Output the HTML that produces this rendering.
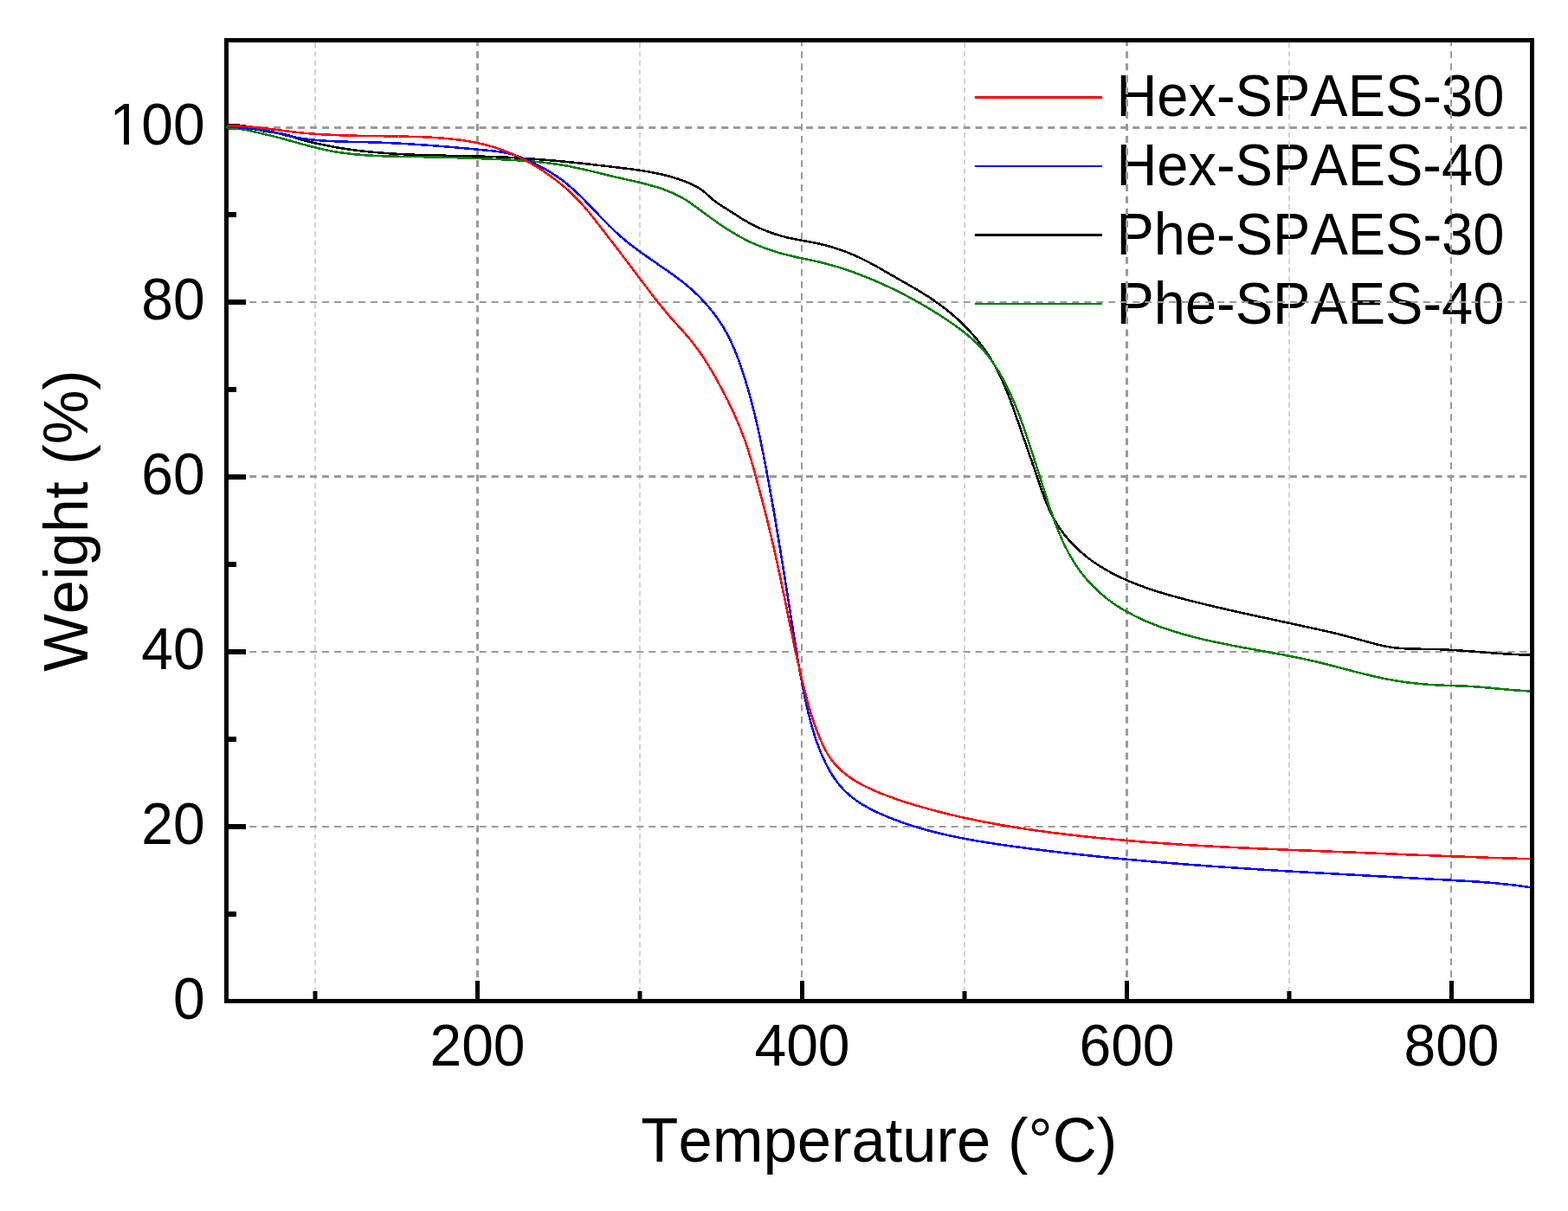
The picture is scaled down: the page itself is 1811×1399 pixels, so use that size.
<!DOCTYPE html>
<html><head><meta charset="utf-8"><title>TGA curves</title>
<style>html,body{margin:0;padding:0;background:#fff;overflow:hidden;}svg{display:block;}</style>
</head><body>
<svg width="1811" height="1399" viewBox="0 0 1811 1399">
<rect width="1811" height="1399" fill="#fff"/>
<text transform="translate(1289.4,134.2) scale(1,1.045)" style="font-family:'Liberation Sans',Arial,sans-serif;font-kerning:none;font-size:65px" fill="#000">Hex-SPAES-30</text>
<text transform="translate(1289.4,214.1) scale(1,1.045)" style="font-family:'Liberation Sans',Arial,sans-serif;font-kerning:none;font-size:65px" fill="#000">Hex-SPAES-40</text>
<text transform="translate(1289.4,294.0) scale(1,1.045)" style="font-family:'Liberation Sans',Arial,sans-serif;font-kerning:none;font-size:65px" fill="#000">Phe-SPAES-30</text>
<text transform="translate(1289.4,373.9) scale(1,1.045)" style="font-family:'Liberation Sans',Arial,sans-serif;font-kerning:none;font-size:65px" fill="#000">Phe-SPAES-40</text>
<g stroke="#d2d2d2" stroke-width="2" stroke-dasharray="6.2 4.193" fill="none">
<line x1="364.0" y1="49" x2="364.0" y2="1154"/>
<line x1="739.0" y1="49" x2="739.0" y2="1154"/>
<line x1="1114.0" y1="49" x2="1114.0" y2="1154"/>
<line x1="1489.0" y1="49" x2="1489.0" y2="1154"/>
</g>
<g stroke="#9a9a9a" stroke-width="2" stroke-dasharray="8 5.973" fill="none">
<line x1="551.5" y1="45.2" x2="551.5" y2="1154" stroke-width="3"/>
<line x1="926" y1="45.2" x2="926" y2="1154" stroke-width="2"/>
<line x1="1301.5" y1="45.2" x2="1301.5" y2="1154" stroke-width="3"/>
<line x1="1676" y1="45.2" x2="1676" y2="1154" stroke-width="2"/>
<line x1="288.2" y1="955" x2="1767" y2="955" stroke-width="2"/>
<line x1="288.2" y1="753" x2="1767" y2="753" stroke-width="2"/>
<line x1="288.2" y1="550.5" x2="1767" y2="550.5" stroke-width="3"/>
<line x1="288.2" y1="349" x2="1767" y2="349" stroke-width="2"/>
<line x1="288.2" y1="147.5" x2="1767" y2="147.5" stroke-width="3"/>
</g>
<rect x="261.5" y="46.5" width="1508.0" height="1110.0" fill="none" stroke="#000" stroke-width="5"/>
<g stroke="#000" fill="none">
<line x1="551.5" y1="1156.5" x2="551.5" y2="1133" stroke-width="5"/>
<line x1="926.5" y1="1156.5" x2="926.5" y2="1133" stroke-width="5"/>
<line x1="1301.5" y1="1156.5" x2="1301.5" y2="1133" stroke-width="5"/>
<line x1="1676.5" y1="1156.5" x2="1676.5" y2="1133" stroke-width="5"/>
<line x1="364.0" y1="1156.5" x2="364.0" y2="1145" stroke-width="5"/>
<line x1="739.0" y1="1156.5" x2="739.0" y2="1145" stroke-width="5"/>
<line x1="1114.0" y1="1156.5" x2="1114.0" y2="1145" stroke-width="5"/>
<line x1="1489.0" y1="1156.5" x2="1489.0" y2="1145" stroke-width="5"/>
<line x1="261.5" y1="955.0" x2="284" y2="955.0" stroke-width="6"/>
<line x1="261.5" y1="753.0" x2="284" y2="753.0" stroke-width="6"/>
<line x1="261.5" y1="551.0" x2="284" y2="551.0" stroke-width="6"/>
<line x1="261.5" y1="349.0" x2="284" y2="349.0" stroke-width="6"/>
<line x1="261.5" y1="147.0" x2="284" y2="147.0" stroke-width="6"/>
<line x1="261.5" y1="1056.0" x2="273" y2="1056.0" stroke-width="6"/>
<line x1="261.5" y1="854.0" x2="273" y2="854.0" stroke-width="6"/>
<line x1="261.5" y1="652.0" x2="273" y2="652.0" stroke-width="6"/>
<line x1="261.5" y1="450.0" x2="273" y2="450.0" stroke-width="6"/>
<line x1="261.5" y1="248.0" x2="273" y2="248.0" stroke-width="6"/>
</g>
<g fill="none" stroke-width="2.55" stroke-linejoin="round" stroke-linecap="butt" shape-rendering="crispEdges">
<path stroke="#000000" d="M263.5,144.5 266.5,144.2 269.5,144.2 272.5,144.3 275.5,144.6 278.4,145.0 281.4,145.5 284.3,146.2 287.2,146.9 290.1,147.6 293.0,148.4 295.9,149.2 298.8,149.9 301.8,150.6 304.7,151.3 307.6,151.8 310.6,152.3 313.6,152.7 316.6,153.1 319.5,153.5 322.5,154.0 325.4,154.5 328.4,155.1 331.3,155.8 334.2,156.7 337.0,157.6 339.9,158.6 342.7,159.6 345.5,160.6 348.4,161.5 351.3,162.3 354.2,163.0 357.1,163.7 360.0,164.4 363.0,165.1 365.9,165.7 368.8,166.4 371.7,167.0 374.7,167.6 377.6,168.2 380.6,168.8 383.5,169.4 386.5,169.9 389.4,170.4 392.4,170.9 395.3,171.4 398.3,171.8 401.3,172.3 404.3,172.7 407.2,173.1 410.2,173.5 413.2,173.9 416.2,174.2 419.1,174.6 422.1,174.9 425.1,175.2 428.1,175.5 431.1,175.8 434.1,176.1 437.1,176.3 440.1,176.6 443.0,176.8 446.0,177.0 449.0,177.2 452.0,177.4 455.0,177.6 458.0,177.8 461.0,177.9 464.0,178.1 467.0,178.3 470.0,178.4 473.0,178.5 476.0,178.6 479.0,178.8 482.0,178.9 485.0,179.0 488.0,179.1 491.0,179.2 494.0,179.3 497.0,179.3 500.0,179.4 503.0,179.5 506.0,179.6 509.0,179.6 512.0,179.7 515.0,179.8 518.0,179.8 521.0,179.9 524.0,179.9 527.0,180.0 530.0,180.1 533.0,180.1 536.0,180.2 539.0,180.3 542.0,180.3 545.0,180.4 548.0,180.5 551.0,180.5 554.0,180.6 557.0,180.7 560.0,180.8 563.0,180.9 566.0,181.0 569.0,181.1 572.0,181.2 575.0,181.3 578.0,181.4 581.0,181.5 584.0,181.7 587.0,181.8 590.0,182.0 593.0,182.2 596.0,182.3 599.0,182.5 602.0,182.7 605.0,182.9 608.0,183.1 611.0,183.3 614.0,183.5 616.9,183.7 619.9,183.9 622.9,184.2 625.9,184.4 628.9,184.7 631.9,184.9 634.9,185.2 637.9,185.4 640.9,185.7 643.9,186.0 646.8,186.2 649.8,186.5 652.8,186.8 655.8,187.1 658.8,187.4 661.8,187.7 664.8,188.0 667.8,188.3 670.7,188.6 673.7,188.9 676.7,189.3 679.7,189.6 682.7,189.9 685.7,190.3 688.6,190.6 691.6,190.9 694.6,191.3 697.6,191.6 700.6,192.0 703.5,192.3 706.5,192.7 709.5,193.0 712.5,193.4 715.5,193.7 718.4,194.1 721.4,194.5 724.4,194.8 727.4,195.2 730.3,195.6 733.3,196.0 736.3,196.4 739.3,196.9 742.2,197.3 745.2,197.8 748.2,198.3 751.1,198.8 754.1,199.4 757.0,199.9 759.9,200.5 762.9,201.2 765.8,201.8 768.7,202.6 771.6,203.3 774.5,204.1 777.4,204.9 780.3,205.8 783.1,206.7 786.0,207.7 788.8,208.7 791.6,209.8 794.4,210.9 797.1,212.1 799.9,213.3 802.5,214.7 805.2,216.1 807.7,217.7 810.2,219.3 812.7,221.1 815.0,223.0 817.2,225.1 819.4,227.1 821.6,229.1 823.9,231.1 826.3,232.9 828.7,234.6 831.2,236.3 833.7,237.9 836.3,239.5 838.8,241.1 841.4,242.7 843.9,244.3 846.4,245.9 848.9,247.6 851.5,249.2 854.0,250.8 856.5,252.4 859.1,254.0 861.7,255.5 864.3,257.0 866.9,258.4 869.6,259.8 872.2,261.2 875.0,262.5 877.7,263.7 880.4,264.9 883.2,266.0 886.0,267.1 888.8,268.2 891.6,269.2 894.5,270.2 897.4,271.1 900.2,271.9 903.1,272.8 906.0,273.5 908.9,274.3 911.8,274.9 914.8,275.6 917.7,276.2 920.7,276.8 923.6,277.4 926.6,277.9 929.5,278.4 932.5,279.0 935.4,279.5 938.4,280.1 941.3,280.7 944.2,281.3 947.2,281.9 950.1,282.6 953.0,283.3 955.9,284.1 958.8,284.9 961.7,285.7 964.6,286.6 967.4,287.5 970.2,288.5 973.1,289.5 975.9,290.5 978.7,291.6 981.5,292.7 984.3,293.9 987.0,295.1 989.7,296.3 992.5,297.5 995.2,298.8 997.9,300.2 1000.5,301.5 1003.2,302.9 1005.9,304.3 1008.5,305.7 1011.1,307.2 1013.8,308.6 1016.4,310.1 1019.0,311.6 1021.6,313.1 1024.2,314.6 1026.8,316.1 1029.4,317.6 1032.0,319.1 1034.6,320.6 1037.2,322.1 1039.8,323.6 1042.4,325.1 1045.0,326.5 1047.6,328.0 1050.2,329.5 1052.8,331.0 1055.4,332.5 1058.0,334.0 1060.6,335.6 1063.2,337.1 1065.7,338.7 1068.3,340.3 1070.8,341.9 1073.3,343.5 1075.8,345.2 1078.3,346.8 1080.8,348.6 1083.2,350.3 1085.6,352.1 1088.0,353.9 1090.4,355.7 1092.8,357.5 1095.1,359.4 1097.5,361.3 1099.8,363.2 1102.0,365.2 1104.3,367.2 1106.5,369.2 1108.7,371.2 1110.9,373.3 1113.0,375.4 1115.1,377.5 1117.2,379.7 1119.3,381.8 1121.3,384.1 1123.3,386.3 1125.3,388.5 1127.3,390.8 1129.2,393.1 1131.1,395.5 1132.9,397.9 1134.7,400.2 1136.5,402.7 1138.2,405.1 1139.9,407.6 1141.6,410.1 1143.2,412.6 1144.8,415.2 1146.3,417.7 1147.8,420.3 1149.3,423.0 1150.7,425.6 1152.1,428.3 1153.4,430.9 1154.8,433.6 1156.1,436.3 1157.3,439.1 1158.5,441.8 1159.7,444.6 1160.9,447.3 1162.1,450.1 1163.2,452.9 1164.3,455.7 1165.4,458.5 1166.5,461.3 1167.5,464.1 1168.6,466.9 1169.6,469.7 1170.6,472.5 1171.6,475.4 1172.6,478.2 1173.6,481.0 1174.6,483.9 1175.6,486.7 1176.6,489.5 1177.5,492.4 1178.5,495.2 1179.5,498.0 1180.5,500.9 1181.5,503.7 1182.5,506.5 1183.5,509.4 1184.5,512.2 1185.5,515.0 1186.5,517.9 1187.4,520.7 1188.4,523.5 1189.4,526.4 1190.4,529.2 1191.4,532.0 1192.3,534.9 1193.3,537.7 1194.3,540.6 1195.2,543.4 1196.2,546.2 1197.2,549.1 1198.1,551.9 1199.1,554.8 1200.0,557.6 1201.0,560.5 1202.0,563.3 1203.0,566.1 1204.0,569.0 1205.0,571.8 1206.1,574.6 1207.1,577.4 1208.3,580.2 1209.4,582.9 1210.6,585.7 1211.8,588.4 1213.1,591.2 1214.4,593.8 1215.8,596.5 1217.2,599.1 1218.7,601.8 1220.2,604.3 1221.8,606.9 1223.5,609.4 1225.2,611.9 1226.9,614.3 1228.7,616.7 1230.6,619.1 1232.5,621.4 1234.4,623.7 1236.4,625.9 1238.5,628.1 1240.5,630.3 1242.7,632.4 1244.8,634.5 1247.0,636.5 1249.3,638.5 1251.6,640.4 1253.9,642.3 1256.3,644.2 1258.7,646.0 1261.1,647.8 1263.5,649.5 1266.0,651.2 1268.5,652.8 1271.1,654.4 1273.6,656.0 1276.2,657.5 1278.8,659.0 1281.4,660.5 1284.1,661.9 1286.7,663.3 1289.4,664.6 1292.1,666.0 1294.8,667.3 1297.5,668.5 1300.3,669.7 1303.0,670.9 1305.8,672.1 1308.6,673.3 1311.4,674.4 1314.1,675.5 1317.0,676.5 1319.8,677.6 1322.6,678.6 1325.4,679.6 1328.3,680.6 1331.1,681.5 1334.0,682.4 1336.8,683.4 1339.7,684.3 1342.6,685.1 1345.4,686.0 1348.3,686.8 1351.2,687.7 1354.1,688.5 1357.0,689.3 1359.9,690.1 1362.8,690.8 1365.7,691.6 1368.6,692.4 1371.5,693.1 1374.4,693.9 1377.3,694.6 1380.2,695.3 1383.1,696.0 1386.0,696.8 1389.0,697.5 1391.9,698.2 1394.8,698.9 1397.7,699.6 1400.6,700.3 1403.5,701.0 1406.5,701.7 1409.4,702.3 1412.3,703.0 1415.2,703.7 1418.2,704.4 1421.1,705.0 1424.0,705.7 1426.9,706.3 1429.9,707.0 1432.8,707.7 1435.7,708.3 1438.7,709.0 1441.6,709.6 1444.5,710.2 1447.5,710.9 1450.4,711.5 1453.3,712.2 1456.2,712.8 1459.2,713.4 1462.1,714.1 1465.0,714.7 1468.0,715.3 1470.9,716.0 1473.8,716.6 1476.8,717.2 1479.7,717.9 1482.7,718.5 1485.6,719.1 1488.5,719.8 1491.5,720.4 1494.4,721.0 1497.3,721.7 1500.3,722.3 1503.2,722.9 1506.1,723.6 1509.1,724.2 1512.0,724.8 1514.9,725.5 1517.8,726.1 1520.8,726.8 1523.7,727.4 1526.6,728.1 1529.6,728.7 1532.5,729.4 1535.4,730.1 1538.3,730.7 1541.3,731.4 1544.2,732.1 1547.1,732.8 1550.0,733.6 1552.9,734.3 1555.8,735.1 1558.7,735.9 1561.6,736.6 1564.5,737.4 1567.4,738.2 1570.3,739.0 1573.2,739.8 1576.1,740.6 1579.0,741.4 1581.9,742.2 1584.8,743.0 1587.7,743.7 1590.6,744.5 1593.5,745.2 1596.4,745.8 1599.4,746.5 1602.3,747.0 1605.3,747.5 1608.2,748.0 1611.2,748.3 1614.2,748.6 1617.2,748.9 1620.2,749.1 1623.2,749.3 1626.2,749.4 1629.2,749.5 1632.2,749.6 1635.2,749.7 1638.2,749.7 1641.2,749.8 1644.2,749.8 1647.2,749.8 1650.2,749.9 1653.2,749.9 1656.2,750.0 1659.2,750.1 1662.2,750.2 1665.2,750.3 1668.2,750.4 1671.2,750.6 1674.2,750.8 1677.2,750.9 1680.2,751.1 1683.2,751.3 1686.2,751.5 1689.1,751.7 1692.1,751.9 1695.1,752.1 1698.1,752.4 1701.1,752.6 1704.1,752.8 1707.1,753.0 1710.1,753.3 1713.1,753.5 1716.1,753.8 1719.1,754.0 1722.1,754.2 1725.1,754.4 1728.0,754.7 1731.0,754.9 1734.0,755.1 1737.0,755.3 1740.0,755.5 1743.0,755.7 1746.0,755.8 1749.0,756.0 1752.0,756.1 1755.0,756.3 1758.0,756.4 1761.0,756.5 1764.0,756.6 1767.0,756.7"/>
<path stroke="#007f00" d="M261.3,146.1 263.6,148.0 266.5,148.8 269.5,148.9 272.5,148.9 275.5,148.9 278.5,149.1 281.4,149.5 284.4,150.1 287.3,150.7 290.2,151.5 293.1,152.2 296.1,152.8 299.0,153.5 301.9,154.2 304.8,154.8 307.8,155.5 310.7,156.2 313.6,156.9 316.5,157.6 319.4,158.4 322.3,159.1 325.2,159.9 328.1,160.7 331.0,161.5 333.9,162.3 336.8,163.1 339.7,163.9 342.6,164.7 345.5,165.5 348.4,166.3 351.2,167.1 354.1,167.9 357.0,168.6 359.9,169.4 362.9,170.1 365.8,170.9 368.7,171.6 371.6,172.2 374.5,172.9 377.5,173.5 380.4,174.1 383.4,174.6 386.3,175.2 389.3,175.7 392.2,176.1 395.2,176.5 398.2,176.9 401.2,177.3 404.1,177.7 407.1,178.0 410.1,178.3 413.1,178.6 416.1,178.8 419.1,179.1 422.1,179.3 425.1,179.5 428.0,179.7 431.0,179.8 434.0,180.0 437.0,180.1 440.0,180.2 443.0,180.3 446.0,180.4 449.0,180.5 452.0,180.6 455.0,180.7 458.0,180.7 461.0,180.8 464.0,180.8 467.0,180.9 470.0,180.9 473.0,181.0 476.0,181.0 479.0,181.1 482.0,181.1 485.0,181.2 488.0,181.2 491.0,181.3 494.0,181.4 497.0,181.4 500.0,181.5 503.0,181.6 506.0,181.6 509.0,181.7 512.0,181.8 515.0,181.9 518.0,181.9 521.0,182.0 524.0,182.1 527.0,182.2 530.0,182.3 533.0,182.4 536.0,182.5 539.0,182.6 542.0,182.7 545.0,182.8 548.0,182.9 551.0,183.0 554.0,183.1 557.0,183.3 560.0,183.4 563.0,183.5 566.0,183.6 569.0,183.8 572.0,183.9 575.0,184.1 578.0,184.2 581.0,184.3 584.0,184.5 587.0,184.7 590.0,184.8 593.0,185.0 595.9,185.2 598.9,185.3 601.9,185.5 604.9,185.7 607.9,185.9 610.9,186.2 613.9,186.4 616.9,186.7 619.9,186.9 622.9,187.2 625.8,187.5 628.8,187.9 631.8,188.2 634.8,188.6 637.8,189.0 640.7,189.4 643.7,189.8 646.7,190.3 649.6,190.8 652.6,191.3 655.5,191.8 658.5,192.4 661.4,193.0 664.4,193.6 667.3,194.2 670.2,194.8 673.2,195.5 676.1,196.2 679.0,196.8 681.9,197.5 684.8,198.2 687.8,198.9 690.7,199.6 693.6,200.3 696.5,201.0 699.4,201.7 702.3,202.5 705.2,203.2 708.2,203.9 711.1,204.5 714.0,205.2 716.9,205.9 719.9,206.6 722.8,207.2 725.7,207.9 728.6,208.5 731.6,209.2 734.5,209.9 737.4,210.5 740.3,211.2 743.2,212.0 746.1,212.7 749.1,213.5 751.9,214.3 754.8,215.1 757.7,215.9 760.6,216.8 763.4,217.8 766.3,218.7 769.1,219.8 771.9,220.9 774.6,222.0 777.4,223.2 780.1,224.4 782.8,225.8 785.5,227.1 788.1,228.6 790.7,230.1 793.2,231.7 795.7,233.4 798.2,235.0 800.7,236.8 803.1,238.5 805.5,240.3 807.9,242.1 810.3,243.9 812.7,245.7 815.2,247.5 817.6,249.2 820.0,251.0 822.4,252.8 824.9,254.5 827.3,256.2 829.8,257.9 832.3,259.6 834.8,261.3 837.3,263.0 839.8,264.6 842.3,266.2 844.9,267.8 847.4,269.3 850.0,270.9 852.6,272.3 855.2,273.8 857.9,275.2 860.5,276.6 863.2,278.0 865.9,279.3 868.6,280.5 871.4,281.8 874.1,282.9 876.9,284.1 879.7,285.2 882.5,286.3 885.3,287.3 888.1,288.3 891.0,289.3 893.8,290.2 896.7,291.1 899.6,291.9 902.5,292.8 905.4,293.6 908.3,294.3 911.2,295.0 914.1,295.7 917.0,296.4 919.9,297.1 922.9,297.7 925.8,298.3 928.7,298.9 931.7,299.5 934.6,300.1 937.6,300.8 940.5,301.4 943.4,302.0 946.3,302.7 949.3,303.4 952.2,304.1 955.1,304.9 958.0,305.7 960.9,306.5 963.7,307.3 966.6,308.2 969.5,309.1 972.3,310.0 975.2,310.9 978.0,311.8 980.9,312.8 983.7,313.8 986.5,314.8 989.3,315.9 992.2,316.9 995.0,318.0 997.7,319.1 1000.5,320.2 1003.3,321.3 1006.1,322.5 1008.9,323.6 1011.6,324.8 1014.4,326.0 1017.1,327.2 1019.8,328.4 1022.6,329.7 1025.3,331.0 1028.0,332.2 1030.7,333.5 1033.4,334.8 1036.1,336.2 1038.8,337.5 1041.5,338.9 1044.1,340.2 1046.8,341.6 1049.4,343.0 1052.1,344.5 1054.7,345.9 1057.3,347.3 1060.0,348.8 1062.6,350.3 1065.2,351.8 1067.8,353.3 1070.3,354.8 1072.9,356.4 1075.5,357.9 1078.0,359.5 1080.6,361.1 1083.1,362.7 1085.6,364.3 1088.2,365.9 1090.7,367.6 1093.2,369.2 1095.7,370.9 1098.2,372.6 1100.6,374.3 1103.1,376.0 1105.5,377.8 1107.9,379.5 1110.3,381.3 1112.7,383.2 1115.0,385.0 1117.4,386.9 1119.7,388.9 1121.9,390.8 1124.2,392.8 1126.4,394.9 1128.5,397.0 1130.6,399.1 1132.7,401.3 1134.7,403.5 1136.7,405.7 1138.6,408.0 1140.5,410.4 1142.4,412.7 1144.2,415.1 1145.9,417.6 1147.6,420.0 1149.3,422.5 1150.9,425.1 1152.5,427.6 1154.1,430.2 1155.6,432.8 1157.1,435.4 1158.5,438.0 1159.9,440.6 1161.3,443.3 1162.7,446.0 1164.0,448.7 1165.3,451.4 1166.6,454.1 1167.8,456.8 1169.0,459.5 1170.2,462.3 1171.4,465.0 1172.6,467.8 1173.7,470.6 1174.8,473.4 1175.9,476.2 1177.0,479.0 1178.1,481.8 1179.1,484.6 1180.1,487.4 1181.1,490.2 1182.1,493.1 1183.1,495.9 1184.1,498.7 1185.1,501.6 1186.0,504.4 1187.0,507.3 1187.9,510.1 1188.9,513.0 1189.8,515.8 1190.7,518.7 1191.7,521.5 1192.6,524.4 1193.5,527.2 1194.4,530.1 1195.3,532.9 1196.3,535.8 1197.2,538.6 1198.1,541.5 1199.0,544.4 1199.9,547.2 1200.8,550.1 1201.7,552.9 1202.6,555.8 1203.5,558.7 1204.4,561.5 1205.3,564.4 1206.2,567.2 1207.1,570.1 1208.1,573.0 1209.0,575.8 1209.9,578.7 1210.8,581.5 1211.8,584.4 1212.7,587.2 1213.7,590.1 1214.7,592.9 1215.6,595.7 1216.7,598.6 1217.7,601.4 1218.7,604.2 1219.8,607.0 1220.9,609.8 1222.0,612.6 1223.1,615.4 1224.3,618.1 1225.5,620.9 1226.7,623.6 1227.9,626.3 1229.2,629.1 1230.5,631.7 1231.9,634.4 1233.3,637.1 1234.7,639.7 1236.2,642.3 1237.7,644.9 1239.2,647.5 1240.8,650.1 1242.4,652.6 1244.1,655.1 1245.8,657.5 1247.6,659.9 1249.4,662.3 1251.3,664.7 1253.2,667.0 1255.1,669.3 1257.1,671.5 1259.1,673.8 1261.2,675.9 1263.3,678.1 1265.4,680.2 1267.6,682.2 1269.8,684.3 1272.1,686.3 1274.4,688.2 1276.7,690.1 1279.0,692.0 1281.4,693.8 1283.8,695.5 1286.3,697.3 1288.8,699.0 1291.3,700.6 1293.8,702.2 1296.4,703.8 1299.0,705.3 1301.6,706.8 1304.2,708.2 1306.9,709.6 1309.5,711.0 1312.2,712.3 1314.9,713.6 1317.6,714.9 1320.4,716.1 1323.1,717.4 1325.9,718.5 1328.6,719.7 1331.4,720.8 1334.2,721.9 1337.0,723.0 1339.8,724.0 1342.7,725.0 1345.5,726.0 1348.3,727.0 1351.2,727.9 1354.0,728.8 1356.9,729.8 1359.8,730.6 1362.6,731.5 1365.5,732.3 1368.4,733.2 1371.3,734.0 1374.2,734.7 1377.1,735.5 1380.0,736.3 1382.9,737.0 1385.8,737.7 1388.7,738.4 1391.6,739.1 1394.6,739.8 1397.5,740.4 1400.4,741.1 1403.4,741.7 1406.3,742.3 1409.2,742.9 1412.2,743.5 1415.1,744.1 1418.0,744.7 1421.0,745.3 1423.9,745.9 1426.9,746.4 1429.8,747.0 1432.8,747.5 1435.7,748.1 1438.7,748.6 1441.6,749.2 1444.6,749.7 1447.5,750.2 1450.5,750.8 1453.4,751.3 1456.4,751.8 1459.3,752.4 1462.3,752.9 1465.3,753.4 1468.2,754.0 1471.2,754.5 1474.1,755.0 1477.1,755.6 1480.0,756.1 1483.0,756.7 1485.9,757.3 1488.8,757.8 1491.8,758.4 1494.7,759.0 1497.7,759.6 1500.6,760.2 1503.5,760.8 1506.5,761.4 1509.4,762.1 1512.3,762.7 1515.3,763.4 1518.2,764.0 1521.1,764.7 1524.0,765.4 1527.0,766.1 1529.9,766.8 1532.8,767.6 1535.7,768.3 1538.6,769.1 1541.5,769.8 1544.4,770.6 1547.3,771.3 1550.2,772.1 1553.1,772.8 1556.0,773.6 1558.9,774.4 1561.8,775.1 1564.7,775.9 1567.6,776.6 1570.5,777.4 1573.4,778.1 1576.3,778.8 1579.3,779.5 1582.2,780.2 1585.1,780.9 1588.0,781.6 1590.9,782.2 1593.9,782.9 1596.8,783.5 1599.8,784.1 1602.7,784.7 1605.6,785.2 1608.6,785.8 1611.6,786.3 1614.5,786.8 1617.5,787.2 1620.4,787.7 1623.4,788.1 1626.4,788.5 1629.4,788.8 1632.3,789.2 1635.3,789.5 1638.3,789.8 1641.3,790.1 1644.3,790.4 1647.3,790.6 1650.3,790.9 1653.3,791.1 1656.3,791.2 1659.3,791.4 1662.2,791.5 1665.2,791.7 1668.2,791.8 1671.2,791.9 1674.2,792.0 1677.2,792.1 1680.2,792.2 1683.2,792.3 1686.2,792.5 1689.2,792.6 1692.2,792.7 1695.2,792.8 1698.2,793.0 1701.2,793.2 1704.2,793.4 1707.2,793.6 1710.2,793.8 1713.2,794.0 1716.2,794.3 1719.2,794.5 1722.1,794.8 1725.1,795.1 1728.1,795.4 1731.1,795.7 1734.1,796.0 1737.1,796.2 1740.1,796.5 1743.1,796.8 1746.0,797.0 1749.0,797.3 1752.0,797.5 1755.0,797.7 1758.0,797.9 1761.0,798.1 1764.0,798.3 1767.0,798.4"/>
<path stroke="#0000ff" d="M263.0,146.3 266.0,146.5 269.0,146.7 272.0,147.0 275.0,147.2 278.0,147.5 281.0,147.8 283.9,148.1 286.9,148.4 289.9,148.7 292.9,149.1 295.9,149.4 298.9,149.8 301.8,150.2 304.8,150.6 307.8,151.0 310.7,151.5 313.7,152.1 316.6,152.8 319.5,153.5 322.4,154.3 325.3,155.1 328.2,155.9 331.1,156.6 334.1,157.3 337.0,157.9 339.9,158.5 342.9,159.0 345.8,159.5 348.8,160.0 351.8,160.4 354.8,160.8 357.7,161.1 360.7,161.5 363.7,161.8 366.7,162.0 369.7,162.3 372.7,162.5 375.7,162.7 378.7,162.9 381.7,163.0 384.7,163.2 387.7,163.3 390.7,163.4 393.7,163.5 396.7,163.6 399.7,163.7 402.7,163.8 405.7,163.8 408.7,163.9 411.7,164.0 414.7,164.0 417.7,164.1 420.7,164.1 423.7,164.2 426.7,164.3 429.7,164.4 432.7,164.5 435.7,164.6 438.7,164.7 441.7,164.8 444.7,164.9 447.7,165.0 450.7,165.2 453.7,165.3 456.7,165.5 459.7,165.6 462.7,165.8 465.7,165.9 468.7,166.1 471.7,166.3 474.7,166.5 477.7,166.7 480.7,166.9 483.7,167.1 486.7,167.3 489.6,167.5 492.6,167.7 495.6,167.9 498.6,168.1 501.6,168.4 504.6,168.6 507.6,168.8 510.6,169.1 513.6,169.3 516.6,169.6 519.6,169.8 522.6,170.1 525.6,170.3 528.5,170.6 531.5,170.9 534.5,171.1 537.5,171.4 540.5,171.7 543.5,171.9 546.5,172.2 549.5,172.5 552.5,172.8 555.5,173.1 558.4,173.3 561.4,173.6 564.4,173.9 567.4,174.2 570.4,174.5 573.4,174.9 576.3,175.3 579.3,175.7 582.3,176.3 585.2,176.8 588.1,177.5 591.1,178.2 593.9,179.0 596.8,180.0 599.6,181.0 602.4,182.0 605.2,183.2 608.0,184.4 610.7,185.6 613.4,186.9 616.1,188.3 618.8,189.6 621.4,191.0 624.1,192.4 626.7,193.8 629.4,195.3 632.0,196.8 634.6,198.3 637.1,199.9 639.6,201.5 642.2,203.1 644.6,204.8 647.1,206.5 649.5,208.3 651.9,210.1 654.2,212.0 656.5,213.9 658.8,215.9 661.1,217.9 663.3,219.9 665.5,221.9 667.7,224.0 669.9,226.0 672.0,228.1 674.1,230.3 676.2,232.4 678.3,234.6 680.4,236.7 682.5,238.9 684.6,241.1 686.6,243.2 688.7,245.4 690.8,247.6 692.8,249.8 694.9,251.9 697.0,254.1 699.1,256.2 701.2,258.4 703.3,260.5 705.5,262.6 707.6,264.7 709.8,266.8 712.0,268.8 714.2,270.8 716.5,272.8 718.7,274.8 721.0,276.7 723.4,278.6 725.7,280.5 728.1,282.4 730.4,284.2 732.8,286.0 735.2,287.8 737.6,289.6 740.1,291.4 742.5,293.1 744.9,294.9 747.4,296.6 749.9,298.3 752.3,300.0 754.8,301.7 757.3,303.4 759.7,305.1 762.2,306.9 764.7,308.6 767.1,310.3 769.6,312.0 772.0,313.7 774.5,315.4 776.9,317.2 779.4,318.9 781.8,320.7 784.2,322.5 786.6,324.3 789.0,326.2 791.3,328.1 793.6,330.0 795.9,331.9 798.2,333.9 800.4,335.9 802.6,337.9 804.8,340.0 807.0,342.1 809.1,344.2 811.1,346.4 813.2,348.6 815.2,350.8 817.2,353.1 819.1,355.3 821.0,357.7 822.9,360.0 824.7,362.4 826.5,364.8 828.3,367.2 830.0,369.7 831.7,372.2 833.3,374.7 834.9,377.2 836.4,379.8 837.9,382.4 839.4,385.0 840.8,387.7 842.2,390.4 843.5,393.1 844.8,395.8 846.0,398.5 847.2,401.3 848.4,404.0 849.5,406.8 850.7,409.6 851.7,412.4 852.8,415.2 853.8,418.0 854.8,420.8 855.8,423.7 856.8,426.5 857.7,429.4 858.6,432.2 859.6,435.1 860.5,438.0 861.3,440.8 862.2,443.7 863.1,446.6 863.9,449.5 864.7,452.3 865.5,455.2 866.3,458.1 867.1,461.0 867.9,463.9 868.6,466.8 869.4,469.7 870.1,472.7 870.9,475.6 871.6,478.5 872.3,481.4 873.0,484.3 873.6,487.2 874.3,490.2 875.0,493.1 875.6,496.0 876.3,499.0 876.9,501.9 877.5,504.8 878.2,507.8 878.8,510.7 879.4,513.6 880.0,516.6 880.6,519.5 881.2,522.5 881.8,525.4 882.3,528.4 882.9,531.3 883.5,534.3 884.0,537.2 884.6,540.2 885.2,543.1 885.7,546.1 886.3,549.0 886.8,552.0 887.4,554.9 887.9,557.9 888.4,560.8 889.0,563.8 889.5,566.7 890.0,569.7 890.6,572.6 891.1,575.6 891.6,578.5 892.1,581.5 892.6,584.5 893.2,587.4 893.7,590.4 894.2,593.3 894.7,596.3 895.2,599.2 895.7,602.2 896.2,605.2 896.7,608.1 897.2,611.1 897.7,614.1 898.2,617.0 898.7,620.0 899.2,622.9 899.7,625.9 900.1,628.9 900.6,631.8 901.1,634.8 901.6,637.7 902.1,640.7 902.5,643.7 903.0,646.6 903.5,649.6 904.0,652.6 904.5,655.5 904.9,658.5 905.4,661.5 905.9,664.4 906.4,667.4 906.8,670.4 907.3,673.3 907.8,676.3 908.2,679.2 908.7,682.2 909.2,685.2 909.7,688.1 910.1,691.1 910.6,694.1 911.1,697.0 911.5,700.0 912.0,703.0 912.5,705.9 912.9,708.9 913.4,711.9 913.9,714.8 914.4,717.8 914.8,720.8 915.3,723.7 915.8,726.7 916.2,729.6 916.7,732.6 917.2,735.6 917.7,738.5 918.2,741.5 918.6,744.5 919.1,747.4 919.6,750.4 920.1,753.4 920.6,756.3 921.0,759.3 921.5,762.2 922.0,765.2 922.5,768.2 923.0,771.1 923.5,774.1 924.1,777.0 924.6,780.0 925.1,782.9 925.7,785.9 926.2,788.9 926.8,791.8 927.3,794.8 927.9,797.7 928.5,800.6 929.1,803.6 929.7,806.5 930.4,809.5 931.0,812.4 931.7,815.3 932.3,818.2 933.0,821.2 933.7,824.1 934.5,827.0 935.2,829.9 936.0,832.8 936.7,835.7 937.5,838.6 938.4,841.5 939.2,844.4 940.1,847.2 941.0,850.1 941.9,852.9 942.9,855.8 943.9,858.6 944.9,861.4 946.0,864.2 947.1,867.0 948.2,869.8 949.4,872.6 950.6,875.3 951.9,878.0 953.2,880.8 954.5,883.4 955.9,886.1 957.3,888.7 958.8,891.4 960.4,893.9 962.0,896.5 963.6,899.0 965.3,901.4 967.1,903.9 969.0,906.2 970.9,908.5 972.9,910.7 975.0,912.9 977.1,915.0 979.3,917.0 981.6,919.0 983.9,920.9 986.3,922.7 988.7,924.5 991.2,926.2 993.7,927.9 996.3,929.5 998.8,931.0 1001.5,932.5 1004.1,933.9 1006.8,935.3 1009.4,936.6 1012.1,938.0 1014.9,939.2 1017.6,940.4 1020.3,941.6 1023.1,942.8 1025.9,944.0 1028.7,945.1 1031.5,946.2 1034.3,947.2 1037.1,948.3 1039.9,949.3 1042.7,950.3 1045.6,951.3 1048.4,952.2 1051.3,953.2 1054.1,954.1 1057.0,955.0 1059.9,955.9 1062.8,956.7 1065.6,957.5 1068.5,958.4 1071.4,959.2 1074.3,959.9 1077.2,960.7 1080.1,961.4 1083.1,962.2 1086.0,962.9 1088.9,963.6 1091.8,964.2 1094.7,964.9 1097.7,965.5 1100.6,966.2 1103.5,966.8 1106.5,967.4 1109.4,968.0 1112.4,968.5 1115.3,969.1 1118.3,969.7 1121.2,970.2 1124.2,970.7 1127.1,971.2 1130.1,971.8 1133.1,972.2 1136.0,972.7 1139.0,973.2 1142.0,973.7 1144.9,974.1 1147.9,974.6 1150.9,975.0 1153.8,975.5 1156.8,975.9 1159.8,976.3 1162.7,976.8 1165.7,977.2 1168.7,977.6 1171.7,978.0 1174.6,978.4 1177.6,978.8 1180.6,979.2 1183.6,979.6 1186.5,980.0 1189.5,980.4 1192.5,980.8 1195.5,981.1 1198.5,981.5 1201.4,981.9 1204.4,982.3 1207.4,982.6 1210.4,983.0 1213.3,983.4 1216.3,983.7 1219.3,984.1 1222.3,984.4 1225.3,984.8 1228.3,985.1 1231.2,985.5 1234.2,985.8 1237.2,986.1 1240.2,986.5 1243.2,986.8 1246.2,987.1 1249.1,987.5 1252.1,987.8 1255.1,988.1 1258.1,988.4 1261.1,988.7 1264.1,989.0 1267.0,989.4 1270.0,989.7 1273.0,990.0 1276.0,990.3 1279.0,990.6 1282.0,990.9 1285.0,991.2 1288.0,991.4 1290.9,991.7 1293.9,992.0 1296.9,992.3 1299.9,992.6 1302.9,992.9 1305.9,993.1 1308.9,993.4 1311.9,993.7 1314.9,994.0 1317.8,994.2 1320.8,994.5 1323.8,994.8 1326.8,995.0 1329.8,995.3 1332.8,995.5 1335.8,995.8 1338.8,996.0 1341.8,996.3 1344.8,996.5 1347.8,996.8 1350.8,997.0 1353.7,997.3 1356.7,997.5 1359.7,997.7 1362.7,998.0 1365.7,998.2 1368.7,998.4 1371.7,998.7 1374.7,998.9 1377.7,999.1 1380.7,999.4 1383.7,999.6 1386.7,999.8 1389.7,1000.0 1392.7,1000.2 1395.7,1000.5 1398.6,1000.7 1401.6,1000.9 1404.6,1001.1 1407.6,1001.3 1410.6,1001.5 1413.6,1001.7 1416.6,1001.9 1419.6,1002.1 1422.6,1002.3 1425.6,1002.5 1428.6,1002.7 1431.6,1002.9 1434.6,1003.1 1437.6,1003.3 1440.6,1003.5 1443.6,1003.7 1446.6,1003.9 1449.6,1004.1 1452.6,1004.3 1455.6,1004.5 1458.6,1004.7 1461.5,1004.9 1464.5,1005.1 1467.5,1005.2 1470.5,1005.4 1473.5,1005.6 1476.5,1005.8 1479.5,1006.0 1482.5,1006.1 1485.5,1006.3 1488.5,1006.5 1491.5,1006.7 1494.5,1006.9 1497.5,1007.0 1500.5,1007.2 1503.5,1007.4 1506.5,1007.6 1509.5,1007.7 1512.5,1007.9 1515.5,1008.1 1518.5,1008.2 1521.5,1008.4 1524.5,1008.6 1527.5,1008.7 1530.5,1008.9 1533.5,1009.1 1536.5,1009.2 1539.5,1009.4 1542.5,1009.6 1545.5,1009.7 1548.5,1009.9 1551.5,1010.1 1554.5,1010.2 1557.5,1010.4 1560.4,1010.6 1563.4,1010.7 1566.4,1010.9 1569.4,1011.1 1572.4,1011.2 1575.4,1011.4 1578.4,1011.5 1581.4,1011.7 1584.4,1011.9 1587.4,1012.0 1590.4,1012.2 1593.4,1012.4 1596.4,1012.5 1599.4,1012.7 1602.4,1012.8 1605.4,1013.0 1608.4,1013.2 1611.4,1013.3 1614.4,1013.5 1617.4,1013.6 1620.4,1013.8 1623.4,1014.0 1626.4,1014.1 1629.4,1014.3 1632.4,1014.4 1635.4,1014.6 1638.4,1014.8 1641.4,1014.9 1644.4,1015.1 1647.4,1015.3 1650.4,1015.4 1653.4,1015.6 1656.4,1015.8 1659.4,1015.9 1662.4,1016.1 1665.4,1016.2 1668.4,1016.4 1671.4,1016.6 1674.4,1016.7 1677.4,1016.9 1680.4,1017.1 1683.3,1017.3 1686.3,1017.4 1689.3,1017.6 1692.3,1017.8 1695.3,1018.0 1698.3,1018.1 1701.3,1018.3 1704.3,1018.5 1707.3,1018.7 1710.3,1018.9 1713.3,1019.2 1716.3,1019.4 1719.3,1019.6 1722.3,1019.9 1725.3,1020.1 1728.3,1020.4 1731.3,1020.7 1734.2,1021.0 1737.2,1021.3 1740.2,1021.6 1743.2,1021.9 1746.2,1022.3 1749.2,1022.6 1752.1,1023.0 1755.1,1023.4 1758.1,1023.8 1761.1,1024.2 1764.0,1024.7 1767.0,1025.1"/>
<path stroke="#ff0000" d="M263.0,145.4 266.0,145.4 269.0,145.4 272.0,145.5 275.0,145.6 278.0,145.7 281.0,145.9 284.0,146.1 287.0,146.3 290.0,146.6 293.0,146.9 296.0,147.2 298.9,147.5 301.9,147.8 304.9,148.2 307.9,148.5 310.9,148.9 313.8,149.3 316.8,149.7 319.8,150.0 322.8,150.4 325.7,150.8 328.7,151.2 331.7,151.6 334.7,151.9 337.7,152.3 340.6,152.6 343.6,153.0 346.6,153.3 349.6,153.6 352.6,153.9 355.6,154.1 358.6,154.4 361.5,154.6 364.5,154.8 367.5,155.0 370.5,155.2 373.5,155.4 376.5,155.5 379.5,155.7 382.5,155.8 385.5,156.0 388.5,156.1 391.5,156.2 394.5,156.3 397.5,156.4 400.5,156.5 403.5,156.6 406.5,156.6 409.5,156.7 412.5,156.8 415.5,156.8 418.5,156.9 421.5,156.9 424.5,157.0 427.5,157.0 430.5,157.1 433.5,157.1 436.5,157.1 439.5,157.2 442.5,157.2 445.5,157.3 448.5,157.3 451.5,157.3 454.5,157.4 457.5,157.4 460.5,157.5 463.5,157.5 466.5,157.6 469.5,157.7 472.5,157.8 475.5,157.8 478.5,157.9 481.5,158.0 484.5,158.1 487.5,158.2 490.5,158.4 493.5,158.5 496.5,158.7 499.5,158.8 502.5,159.0 505.5,159.2 508.5,159.4 511.5,159.6 514.5,159.9 517.5,160.2 520.4,160.5 523.4,160.8 526.4,161.1 529.4,161.5 532.4,161.9 535.3,162.3 538.3,162.8 541.3,163.2 544.2,163.8 547.2,164.3 550.1,164.9 553.1,165.5 556.0,166.2 558.9,166.8 561.8,167.6 564.7,168.4 567.6,169.2 570.5,170.0 573.3,170.9 576.2,171.9 579.0,172.8 581.8,173.9 584.6,174.9 587.4,176.1 590.2,177.2 592.9,178.4 595.7,179.7 598.4,181.0 601.1,182.3 603.8,183.7 606.4,185.0 609.0,186.5 611.7,187.9 614.3,189.4 616.9,190.9 619.4,192.5 622.0,194.1 624.5,195.7 627.0,197.3 629.5,199.0 632.0,200.7 634.4,202.4 636.9,204.2 639.3,206.0 641.7,207.8 644.0,209.6 646.4,211.5 648.7,213.4 651.0,215.3 653.3,217.3 655.5,219.3 657.8,221.3 659.9,223.4 662.1,225.4 664.2,227.5 666.3,229.7 668.4,231.9 670.5,234.1 672.5,236.3 674.4,238.5 676.4,240.8 678.3,243.1 680.3,245.4 682.1,247.7 684.0,250.1 685.9,252.4 687.8,254.8 689.6,257.2 691.4,259.5 693.3,261.9 695.1,264.3 697.0,266.6 698.8,269.0 700.6,271.4 702.5,273.8 704.3,276.1 706.1,278.5 708.0,280.9 709.8,283.3 711.6,285.7 713.4,288.0 715.3,290.4 717.1,292.8 718.9,295.2 720.7,297.6 722.5,300.0 724.3,302.4 726.2,304.7 728.0,307.1 729.8,309.5 731.6,311.9 733.4,314.3 735.2,316.7 737.0,319.1 738.8,321.5 740.6,323.9 742.4,326.3 744.3,328.7 746.1,331.1 747.9,333.5 749.7,335.9 751.5,338.3 753.3,340.6 755.2,343.0 757.0,345.4 758.9,347.7 760.7,350.1 762.6,352.4 764.5,354.8 766.4,357.1 768.3,359.4 770.2,361.7 772.2,364.0 774.1,366.3 776.1,368.5 778.1,370.8 780.1,373.0 782.1,375.2 784.1,377.4 786.2,379.7 788.2,381.9 790.2,384.1 792.2,386.4 794.1,388.6 796.1,390.9 798.0,393.2 799.8,395.6 801.7,398.0 803.5,400.4 805.3,402.8 807.0,405.2 808.8,407.7 810.5,410.1 812.1,412.6 813.8,415.1 815.4,417.7 817.0,420.2 818.6,422.8 820.1,425.3 821.7,427.9 823.2,430.5 824.7,433.1 826.2,435.7 827.6,438.3 829.1,440.9 830.5,443.6 832.0,446.2 833.4,448.8 834.8,451.5 836.2,454.2 837.6,456.8 838.9,459.5 840.3,462.2 841.6,464.9 842.9,467.6 844.2,470.3 845.5,473.0 846.8,475.7 848.0,478.4 849.3,481.2 850.5,483.9 851.6,486.7 852.8,489.4 854.0,492.2 855.1,495.0 856.2,497.8 857.3,500.6 858.3,503.4 859.4,506.2 860.4,509.0 861.4,511.9 862.3,514.7 863.3,517.6 864.2,520.4 865.1,523.3 866.0,526.1 866.8,529.0 867.7,531.9 868.5,534.8 869.3,537.7 870.2,540.5 871.0,543.4 871.8,546.3 872.6,549.2 873.4,552.1 874.2,555.0 874.9,557.9 875.7,560.8 876.5,563.7 877.3,566.6 878.1,569.5 878.8,572.4 879.6,575.3 880.4,578.2 881.1,581.1 881.9,584.0 882.6,586.9 883.4,589.8 884.1,592.7 884.8,595.6 885.6,598.6 886.3,601.5 887.0,604.4 887.7,607.3 888.4,610.2 889.1,613.1 889.8,616.0 890.5,619.0 891.2,621.9 891.9,624.8 892.6,627.7 893.3,630.7 893.9,633.6 894.6,636.5 895.2,639.4 895.9,642.4 896.5,645.3 897.2,648.2 897.8,651.2 898.5,654.1 899.1,657.0 899.7,660.0 900.3,662.9 900.9,665.8 901.6,668.8 902.2,671.7 902.8,674.6 903.4,677.6 904.0,680.5 904.6,683.5 905.2,686.4 905.8,689.3 906.4,692.3 907.0,695.2 907.6,698.2 908.2,701.1 908.8,704.0 909.4,707.0 910.0,709.9 910.6,712.9 911.2,715.8 911.8,718.8 912.4,721.7 913.0,724.6 913.6,727.6 914.2,730.5 914.8,733.4 915.4,736.4 916.0,739.3 916.6,742.3 917.3,745.2 917.9,748.1 918.5,751.1 919.2,754.0 919.8,756.9 920.4,759.9 921.1,762.8 921.7,765.7 922.4,768.6 923.1,771.6 923.7,774.5 924.4,777.4 925.1,780.3 925.8,783.3 926.5,786.2 927.2,789.1 927.9,792.0 928.6,794.9 929.4,797.8 930.1,800.7 930.9,803.6 931.6,806.5 932.4,809.4 933.2,812.3 934.0,815.2 934.9,818.1 935.7,821.0 936.6,823.9 937.5,826.7 938.4,829.6 939.3,832.4 940.3,835.3 941.3,838.1 942.3,840.9 943.3,843.7 944.4,846.6 945.5,849.3 946.6,852.1 947.8,854.9 949.0,857.6 950.3,860.4 951.6,863.1 953.0,865.7 954.4,868.4 955.9,871.0 957.5,873.5 959.1,876.0 960.9,878.4 962.7,880.8 964.7,883.1 966.7,885.3 968.8,887.5 971.0,889.5 973.2,891.5 975.5,893.5 977.8,895.3 980.3,897.1 982.7,898.8 985.2,900.5 987.8,902.1 990.3,903.6 993.0,905.1 995.6,906.5 998.3,907.9 1000.9,909.2 1003.7,910.5 1006.4,911.8 1009.1,913.0 1011.9,914.2 1014.6,915.4 1017.4,916.5 1020.2,917.6 1023.0,918.7 1025.8,919.8 1028.6,920.8 1031.4,921.8 1034.3,922.8 1037.1,923.8 1040.0,924.7 1042.8,925.7 1045.7,926.6 1048.5,927.5 1051.4,928.4 1054.3,929.3 1057.1,930.1 1060.0,931.0 1062.9,931.8 1065.8,932.7 1068.7,933.5 1071.6,934.3 1074.4,935.1 1077.3,935.9 1080.2,936.6 1083.1,937.4 1086.1,938.2 1089.0,938.9 1091.9,939.6 1094.8,940.3 1097.7,941.0 1100.6,941.7 1103.5,942.4 1106.5,943.1 1109.4,943.8 1112.3,944.4 1115.3,945.1 1118.2,945.7 1121.1,946.3 1124.1,946.9 1127.0,947.5 1129.9,948.1 1132.9,948.7 1135.8,949.3 1138.8,949.9 1141.7,950.4 1144.7,951.0 1147.6,951.5 1150.6,952.1 1153.5,952.6 1156.5,953.1 1159.4,953.6 1162.4,954.1 1165.4,954.6 1168.3,955.1 1171.3,955.6 1174.2,956.1 1177.2,956.5 1180.2,957.0 1183.1,957.4 1186.1,957.9 1189.1,958.3 1192.1,958.7 1195.0,959.2 1198.0,959.6 1201.0,960.0 1203.9,960.4 1206.9,960.8 1209.9,961.2 1212.9,961.6 1215.8,962.0 1218.8,962.4 1221.8,962.7 1224.8,963.1 1227.8,963.5 1230.7,963.8 1233.7,964.2 1236.7,964.5 1239.7,964.9 1242.7,965.2 1245.6,965.5 1248.6,965.9 1251.6,966.2 1254.6,966.5 1257.6,966.8 1260.6,967.1 1263.5,967.5 1266.5,967.8 1269.5,968.1 1272.5,968.4 1275.5,968.6 1278.5,968.9 1281.5,969.2 1284.4,969.5 1287.4,969.8 1290.4,970.0 1293.4,970.3 1296.4,970.6 1299.4,970.8 1302.4,971.1 1305.4,971.3 1308.4,971.6 1311.4,971.8 1314.3,972.1 1317.3,972.3 1320.3,972.6 1323.3,972.8 1326.3,973.0 1329.3,973.2 1332.3,973.5 1335.3,973.7 1338.3,973.9 1341.3,974.1 1344.3,974.3 1347.3,974.5 1350.3,974.7 1353.3,974.9 1356.2,975.1 1359.2,975.3 1362.2,975.5 1365.2,975.7 1368.2,975.9 1371.2,976.1 1374.2,976.3 1377.2,976.4 1380.2,976.6 1383.2,976.8 1386.2,977.0 1389.2,977.1 1392.2,977.3 1395.2,977.5 1398.2,977.6 1401.2,977.8 1404.2,977.9 1407.2,978.1 1410.2,978.3 1413.2,978.4 1416.2,978.6 1419.2,978.7 1422.2,978.9 1425.2,979.0 1428.2,979.1 1431.2,979.3 1434.1,979.4 1437.1,979.6 1440.1,979.7 1443.1,979.8 1446.1,980.0 1449.1,980.1 1452.1,980.2 1455.1,980.4 1458.1,980.5 1461.1,980.6 1464.1,980.8 1467.1,980.9 1470.1,981.0 1473.1,981.1 1476.1,981.3 1479.1,981.4 1482.1,981.5 1485.1,981.6 1488.1,981.8 1491.1,981.9 1494.1,982.0 1497.1,982.1 1500.1,982.2 1503.1,982.4 1506.1,982.5 1509.1,982.6 1512.1,982.7 1515.1,982.8 1518.1,983.0 1521.1,983.1 1524.1,983.2 1527.1,983.3 1530.1,983.4 1533.1,983.5 1536.1,983.7 1539.1,983.8 1542.1,983.9 1545.1,984.0 1548.1,984.1 1551.1,984.2 1554.1,984.4 1557.1,984.5 1560.1,984.6 1563.1,984.7 1566.1,984.8 1569.1,985.0 1572.1,985.1 1575.1,985.2 1578.1,985.3 1581.1,985.4 1584.1,985.6 1587.1,985.7 1590.1,985.8 1593.1,985.9 1596.1,986.1 1599.1,986.2 1602.1,986.3 1605.1,986.4 1608.1,986.5 1611.1,986.7 1614.1,986.8 1617.1,986.9 1620.0,987.0 1623.0,987.2 1626.0,987.3 1629.0,987.4 1632.0,987.5 1635.0,987.6 1638.0,987.8 1641.0,987.9 1644.0,988.0 1647.0,988.1 1650.0,988.2 1653.0,988.3 1656.0,988.5 1659.0,988.6 1662.0,988.7 1665.0,988.8 1668.0,988.9 1671.0,989.0 1674.0,989.1 1677.0,989.3 1680.0,989.4 1683.0,989.5 1686.0,989.6 1689.0,989.7 1692.0,989.8 1695.0,989.9 1698.0,990.0 1701.0,990.1 1704.0,990.2 1707.0,990.3 1710.0,990.4 1713.0,990.5 1716.0,990.7 1719.0,990.8 1722.0,990.8 1725.0,990.9 1728.0,991.0 1731.0,991.1 1734.0,991.2 1737.0,991.3 1740.0,991.4 1743.0,991.5 1746.0,991.6 1749.0,991.7 1752.0,991.8 1755.0,991.9 1758.0,991.9 1761.0,992.0 1764.0,992.1 1767.0,992.2"/>
</g>
<line x1="1125.8" y1="112.5" x2="1273" y2="112.5" stroke="#ff0000" stroke-width="3"/>
<line x1="1125.8" y1="192" x2="1273" y2="192" stroke="#0000ff" stroke-width="2"/>
<line x1="1125.8" y1="271.5" x2="1273" y2="271.5" stroke="#000000" stroke-width="3"/>
<line x1="1125.8" y1="351" x2="1273" y2="351" stroke="#007f00" stroke-width="2"/>
<text transform="translate(236.6,1176.5) scale(1,1.042)" text-anchor="end" style="font-family:'Liberation Sans',Arial,sans-serif;font-kerning:none;font-size:66px">0</text>
<text transform="translate(236.6,975.0) scale(1,1.042)" text-anchor="end" style="font-family:'Liberation Sans',Arial,sans-serif;font-kerning:none;font-size:66px">20</text>
<text transform="translate(236.6,773.0) scale(1,1.042)" text-anchor="end" style="font-family:'Liberation Sans',Arial,sans-serif;font-kerning:none;font-size:66px">40</text>
<text transform="translate(236.6,571.0) scale(1,1.042)" text-anchor="end" style="font-family:'Liberation Sans',Arial,sans-serif;font-kerning:none;font-size:66px">60</text>
<text transform="translate(236.6,369.0) scale(1,1.042)" text-anchor="end" style="font-family:'Liberation Sans',Arial,sans-serif;font-kerning:none;font-size:66px">80</text>
<text transform="translate(236.6,167.0) scale(1,1.042)" text-anchor="end" style="font-family:'Liberation Sans',Arial,sans-serif;font-kerning:none;font-size:66px">100</text>
<rect x="128" y="161" width="15" height="8" fill="#fff"/>
<rect x="149" y="161" width="15" height="8" fill="#fff"/>
<text transform="translate(551.5,1231) scale(1,1.042)" text-anchor="middle" style="font-family:'Liberation Sans',Arial,sans-serif;font-kerning:none;font-size:66px">200</text>
<text transform="translate(926.5,1231) scale(1,1.042)" text-anchor="middle" style="font-family:'Liberation Sans',Arial,sans-serif;font-kerning:none;font-size:66px">400</text>
<text transform="translate(1301.5,1231) scale(1,1.042)" text-anchor="middle" style="font-family:'Liberation Sans',Arial,sans-serif;font-kerning:none;font-size:66px">600</text>
<text transform="translate(1676.5,1231) scale(1,1.042)" text-anchor="middle" style="font-family:'Liberation Sans',Arial,sans-serif;font-kerning:none;font-size:66px">800</text>
<text transform="translate(740.3,1341.9) scale(1,1.035)" style="font-family:'Liberation Sans',Arial,sans-serif;font-kerning:none;font-size:70.6px">Temperature (°C)</text>
<text transform="translate(101.2,775.8) rotate(-90) scale(1,1.035)" style="font-family:'Liberation Sans',Arial,sans-serif;font-kerning:none;font-size:70.5px">Weight (%)</text>
</svg>
</body></html>
